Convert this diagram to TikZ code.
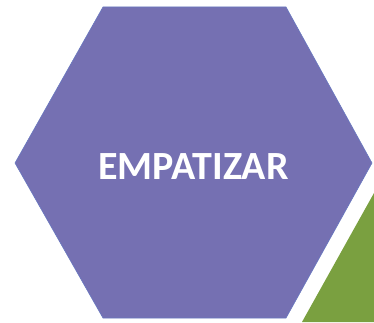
\documentclass[tikz,border=0pt]{standalone}
\usepackage{fontspec}
\newfontfamily\labelfont{Carlito}
\definecolor{hexpurple}{RGB}{117,112,178}
\definecolor{hexedge}{RGB}{104,120,192}
\definecolor{trigreen}{RGB}{122,160,64}
\tikzset{
  hexshape/.style={fill=hexpurple, draw=hexedge, line width=0.6pt, line join=miter},
  greentri/.style={fill=trigreen},
  hexlabel/.style={text=white, font=\labelfont\bfseries\fontsize{40}{48}\selectfont, inner sep=0pt}
}
\begin{document}
\begin{tikzpicture}[x=1pt,y=1pt]
\useasboundingbox (0,0) rectangle (374,322);
\fill[white] (0,0) rectangle (374,322);
\coordinate (h1) at (103,315);
\coordinate (h2) at (286,315);
\coordinate (h3) at (372,159);
\coordinate (h4) at (286,4);
\coordinate (h5) at (103,4);
\coordinate (h6) at (15,159);
\draw[hexshape] (h1) -- (h2) -- (h3) -- (h4) -- (h5) -- (h6) -- cycle;
\coordinate (t1) at (374,129);
\coordinate (t2) at (374,0);
\coordinate (t3) at (302,0);
\fill[greentri] (t1) -- (t2) -- (t3) -- cycle;
\node[hexlabel] (lbl) at (193.5,155.5) {EMPATIZAR};
\end{tikzpicture}
\end{document}
